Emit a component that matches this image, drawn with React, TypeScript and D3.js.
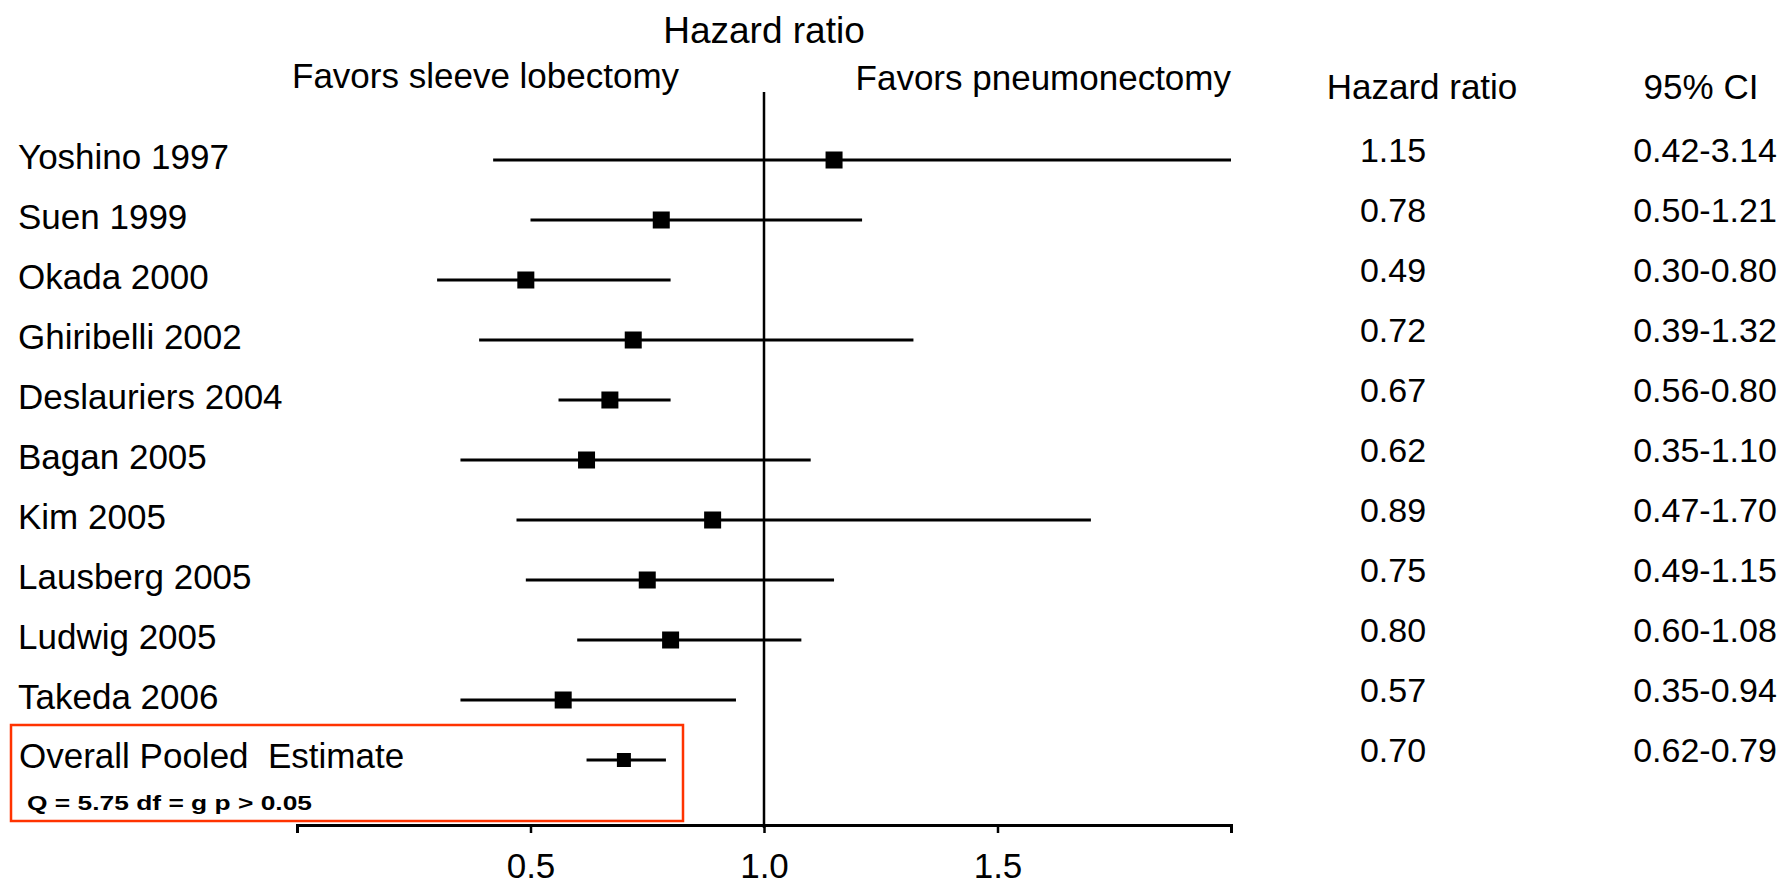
import React, { useEffect, useRef } from 'react';
import * as d3 from 'd3';

// study rows
const studies = [
    'Yoshino 1997',
    'Suen 1999',
    'Okada 2000',
    'Ghiribelli 2002',
    'Deslauriers 2004',
    'Bagan 2005',
    'Kim 2005',
    'Lausberg 2005',
    'Ludwig 2005',
    'Takeda 2006',
];
const hazardRatios = [1.15, 0.78, 0.49, 0.72, 0.67, 0.62, 0.89, 0.75, 0.80, 0.57];
const ciLower = [0.42, 0.50, 0.30, 0.39, 0.56, 0.35, 0.47, 0.49, 0.60, 0.35];
const ciUpper = [3.14, 1.21, 0.80, 1.32, 0.80, 1.10, 1.70, 1.15, 1.08, 0.94];

// pooled estimate: [hr, lower, upper]
const pooledLabel = 'Overall Pooled  Estimate';
const pooledValues = [0.70, 0.62, 0.79];
const heterogeneity = 'Q = 5.75 df = g p > 0.05';

const xTicks = [0.5, 1.0, 1.5];
const xDomain = [0, 2];

const FONT = '"Liberation Sans", Arial, sans-serif';

const App = () => {
    const axisRef = useRef(null);

    const width = 1786;
    const height = 885;
    const axisY = 825;

    const x = d3.scaleLinear().domain(xDomain).range([297, 1231]).clamp(true);
    const rows = [...studies, pooledLabel];
    const y = d3.scalePoint().domain(rows).range([160, 760]);

    const fmt = d3.format('.2f');

    useEffect(() => {
        const g = d3.select(axisRef.current);
        g.selectAll('*').remove();
        g.call(
            d3.axisBottom(x)
                .tickValues(xTicks)
                .tickFormat(d3.format('.1f'))
                .tickSizeOuter(0)
                .tickSize(8)
                .tickPadding(20)
        );
        g.select('.domain').attr('stroke', '#000').attr('stroke-width', 3);
        g.selectAll('.tick line').attr('stroke', '#000').attr('stroke-width', 2.5);
        g.selectAll('.tick text')
            .attr('fill', '#000')
            .attr('font-size', 35)
            .attr('font-family', FONT);
    }, []);

    const studyRows = studies.map((name, i) => ({
        name,
        hr: hazardRatios[i],
        lo: ciLower[i],
        hi: ciUpper[i],
    }));
    const pooled = { name: pooledLabel, hr: pooledValues[0], lo: pooledValues[1], hi: pooledValues[2] };

    const box = 17;
    const pooledBox = 14;

    return (
        <svg
            width={width}
            height={height}
            style={{ position: 'absolute', left: 0, top: 0, background: '#fff' }}
            fontFamily={FONT}
        >
            <rect width={width} height={height} fill="#fff" />

            {/* headers */}
            <text x={x(1)} y={43} fontSize={37} textAnchor="middle">Hazard ratio</text>
            <text x={292} y={88} fontSize={35}>Favors sleeve lobectomy</text>
            <text x={1231} y={90} fontSize={35} textAnchor="end">Favors pneumonectomy</text>
            <text x={1422} y={99} fontSize={35} textAnchor="middle">Hazard ratio</text>
            <text x={1701} y={99} fontSize={35} textAnchor="middle">95% CI</text>

            {/* line of no effect */}
            <line x1={x(1)} x2={x(1)} y1={92} y2={axisY + 3} stroke="#000" strokeWidth={2.5} />

            <g ref={axisRef} transform={`translate(0,${axisY})`} />

            {/* studies */}
            {studyRows.map(d => (
                <g key={d.name}>
                    <text x={18} y={y(d.name) + 9} fontSize={35}>{d.name}</text>
                    <line x1={x(d.lo)} x2={x(d.hi)} y1={y(d.name)} y2={y(d.name)} stroke="#000" strokeWidth={3} />
                    <rect x={x(d.hr) - box / 2} y={y(d.name) - box / 2} width={box} height={box} fill="#000" />
                    <text x={1393} y={y(d.name) + 2} fontSize={34} textAnchor="middle">{fmt(d.hr)}</text>
                    <text x={1705} y={y(d.name) + 2} fontSize={34} textAnchor="middle">
                        {`${fmt(d.lo)}-${fmt(d.hi)}`}
                    </text>
                </g>
            ))}

            {/* pooled */}
            <g>
                <rect x={11} y={725} width={672} height={96} fill="none" stroke="#ff3300" strokeWidth={2.5} />
                <text x={19} y={y(pooled.name) + 8} fontSize={35} style={{ whiteSpace: 'pre' }}>{pooled.name}</text>
                <text x={27} y={810} fontSize={21} fontWeight="bold" textLength={285} lengthAdjust="spacingAndGlyphs">
                    {heterogeneity}
                </text>
                <line x1={x(pooled.lo)} x2={x(pooled.hi)} y1={y(pooled.name)} y2={y(pooled.name)} stroke="#000" strokeWidth={3} />
                <rect x={x(pooled.hr) - pooledBox / 2} y={y(pooled.name) - pooledBox / 2} width={pooledBox} height={pooledBox} fill="#000" />
                <text x={1393} y={y(pooled.name) + 2} fontSize={34} textAnchor="middle">{fmt(pooled.hr)}</text>
                <text x={1705} y={y(pooled.name) + 2} fontSize={34} textAnchor="middle">
                    {`${fmt(pooled.lo)}-${fmt(pooled.hi)}`}
                </text>
            </g>
        </svg>
    );
};

export default App;
